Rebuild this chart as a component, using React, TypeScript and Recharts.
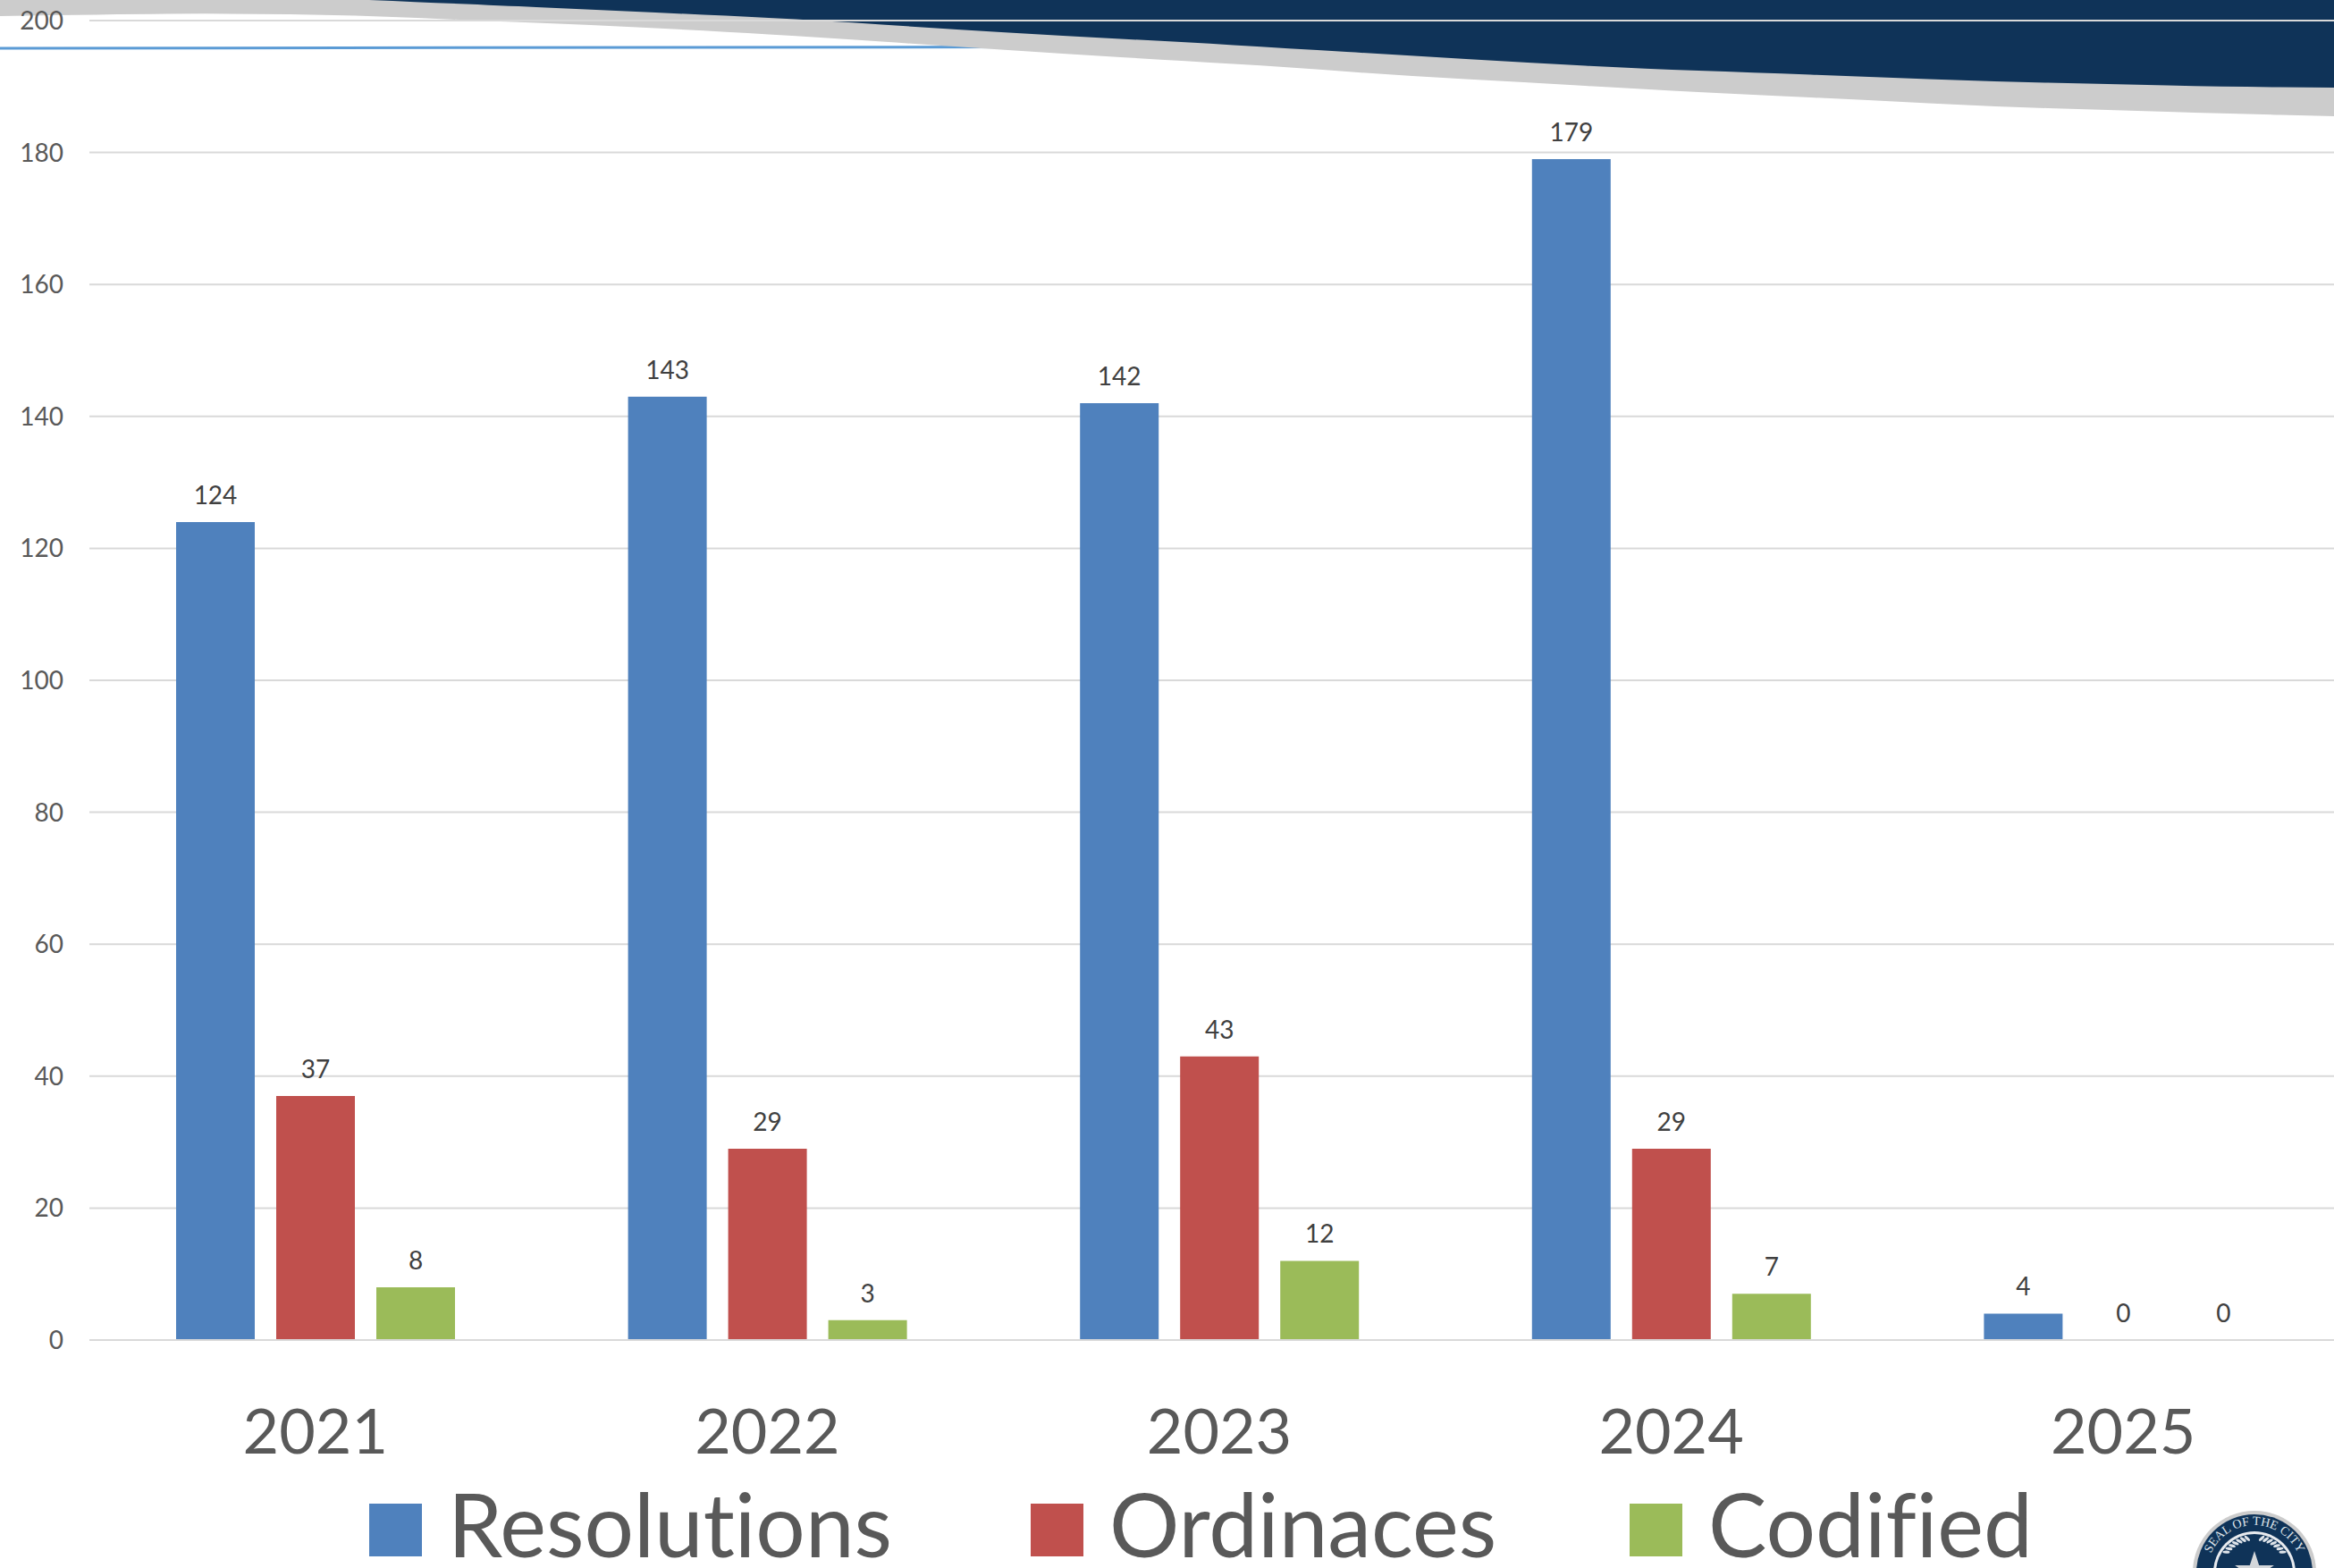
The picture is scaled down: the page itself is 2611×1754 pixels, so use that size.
import { Bar, BarChart, CartesianGrid, LabelList, Legend, XAxis, YAxis } from "recharts";

const years = ["2021", "2022", "2023", "2024", "2025"];
const resolutions = [124, 143, 142, 179, 4];
const ordinances = [37, 29, 43, 29, 0];
const codified = [8, 3, 12, 7, 0];
const yTicks = [0, 20, 40, 60, 80, 100, 120, 140, 160, 180, 200];

const tableData = years.map((year, i) => ({
  year,
  resolutions: resolutions[i],
  ordinances: ordinances[i],
  codified: codified[i],
}));

const FONT = "Lato, Carlito, sans-serif";
const laurelAngles = [12, 19, 26, 33, 40, 47, 54];

// header swoosh outlines
const greyEdge = [
  [0, 18], [124, 16], [249, 15], [400, 17], [533, 23], [667, 28], [800, 35], [920, 42], [1053, 51], [1187, 60],
  [1320, 68], [1440, 75], [1573, 85], [1707, 92], [1840, 100], [1960, 106], [2091, 112], [2224, 119], [2358, 123],
  [2491, 127], [2611, 130],
];
const navyEdge = [
  [413, 0], [533, 5], [667, 11], [800, 17], [920, 23], [1053, 32], [1187, 40], [1320, 47], [1440, 54], [1573, 62],
  [1707, 70], [1840, 77], [1960, 81], [2091, 86], [2224, 91], [2358, 94], [2491, 97], [2611, 98],
];

// rounds the corners by curving through the midpoints
const toPath = (pts: number[][]) => {
  let d = `M${pts[0][0]} ${pts[0][1]}`;
  for (let i = 1; i < pts.length - 1; i++) {
    const mx = (pts[i][0] + pts[i + 1][0]) / 2;
    const my = (pts[i][1] + pts[i + 1][1]) / 2;
    d += ` Q${pts[i][0]} ${pts[i][1]} ${mx} ${my}`;
  }
  const last = pts[pts.length - 1];
  return `${d} L${last[0]} ${last[1]}`;
};

const itemWidths = [740, 670, 500];

function renderLegend({ payload }: any) {
  return (
    <div style={{ display: "flex", alignItems: "flex-start", height: 72, fontFamily: FONT }}>
      {(payload || []).map((item: any, i: number) => (
        <div key={item.value} style={{ display: "flex", alignItems: "flex-start", gap: 29, width: itemWidths[i] }}>
          <span style={{ width: 59, height: 59, marginTop: 13, background: item.color, display: "block" }} />
          <span
            style={{
              fontSize: 98,
              lineHeight: "70px",
              color: "#595959",
              whiteSpace: "nowrap",
              fontVariantLigatures: "none",
            }}
          >
            {item.value}
          </span>
        </div>
      ))}
    </div>
  );
}

function renderBarLabel(props: any) {
  const { x, y, width, value } = props;
  return (
    <text x={x + width / 2} y={y - 20} textAnchor="middle" fill="#404040" fontSize={28} fontFamily={FONT}>
      {value}
    </text>
  );
}

// slide header swoosh and the seal, these sit behind the chart
function SlideArt() {
  return (
    <svg width={2611} height={1754} style={{ position: "absolute", left: 0, top: 0 }}>
      <path d="M0 54 L1130 52.5" stroke="#5b9bd5" strokeWidth={3} fill="none" />
      <path d={`${toPath(greyEdge)} L2611 0 L0 0 Z`} fill="#cccccc" />
      <path d={`${toPath(navyEdge)} L2611 0 Z`} fill="#0f3358" />
      <g>
        <circle cx={2522} cy={1759} r={69} fill="#cccccc" />
        <circle cx={2522} cy={1759} r={65} fill="#0f3358" />
        <circle cx={2522} cy={1759} r={46} fill="#e8ebef" />
        <circle cx={2522} cy={1759} r={43} fill="#0f3358" />
        <path id="sealArc" d="M2469 1759 A53 53 0 0 1 2575 1759" fill="none" />
        <text fill="#dfe4ea" fontFamily="Liberation Serif, serif" fontSize={14}>
          <textPath href="#sealArc" startOffset="50%" textAnchor="middle">
            SEAL OF THE CITY
          </textPath>
        </text>
        {laurelAngles.flatMap((a) =>
          [-a, a].map((ang) => (
            <ellipse
              key={ang}
              cx={2522}
              cy={1720}
              rx={1.6}
              ry={4}
              fill="#dfe4ea"
              transform={`rotate(${ang} 2522 1759) rotate(${ang > 0 ? 35 : -35} 2522 1720)`}
            />
          )),
        )}
        <polygon
          points="2522,1735 2527.2,1750.9 2543.9,1750.9 2530.4,1760.7 2535.5,1776.6 2522,1766.8 2508.5,1776.6 2513.6,1760.7 2500.1,1750.9 2516.8,1750.9"
          fill="#d4d7da"
        />
      </g>
    </svg>
  );
}

export default function App() {
  return (
    <div
      style={{
        position: "absolute",
        left: 0,
        top: 0,
        width: 2611,
        height: 1754,
        overflow: "hidden",
        background: "#ffffff",
      }}
    >
      <SlideArt />
      <div style={{ position: "absolute", left: 0, top: 0 }}>
        <BarChart
          width={2628}
          height={1754}
          data={tableData}
          margin={{ top: 23, right: 0, left: 0, bottom: 0 }}
          barSize={88}
          barGap={24}
        >
          <CartesianGrid vertical={false} stroke="#d9d9d9" strokeWidth={2} />
          <XAxis
            dataKey="year"
            height={183}
            axisLine={{ stroke: "#d9d9d9", strokeWidth: 2 }}
            tickLine={false}
            tickSize={0}
            tickMargin={77}
            tick={{ fill: "#595959", fontSize: 70, fontFamily: FONT }}
          />
          <YAxis
            width={100}
            domain={[0, 200]}
            ticks={yTicks}
            interval={0}
            axisLine={false}
            tickLine={false}
            tickSize={0}
            tickMargin={29}
            tick={{ fill: "#595959", fontSize: 28, fontFamily: FONT }}
          />
          <Legend
            verticalAlign="bottom"
            itemSorter={null}
            content={renderLegend}
            wrapperStyle={{ left: 413, top: 1669, width: "auto", bottom: "auto" }}
          />
          <Bar dataKey="resolutions" name="Resolutions" fill="#4f81bd" minPointSize={0.01} isAnimationActive={false}>
            <LabelList dataKey="resolutions" content={renderBarLabel} />
          </Bar>
          <Bar dataKey="ordinances" name="Ordinaces" fill="#c0504d" minPointSize={0.01} isAnimationActive={false}>
            <LabelList dataKey="ordinances" content={renderBarLabel} />
          </Bar>
          <Bar dataKey="codified" name="Codified" fill="#9bbb59" minPointSize={0.01} isAnimationActive={false}>
            <LabelList dataKey="codified" content={renderBarLabel} />
          </Bar>
        </BarChart>
      </div>
    </div>
  );
}
